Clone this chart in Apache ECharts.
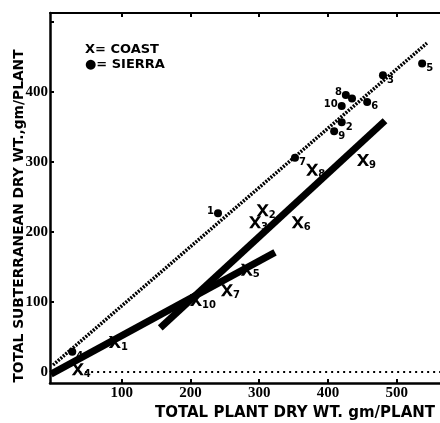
<!DOCTYPE html>
<html>
<head>
<meta charset="utf-8">
<script src="https://cdn.jsdelivr.net/npm/echarts@6/dist/echarts.min.js"></script>
<style>
html,body{margin:0;padding:0;background:#fff;}
#chart{width:440px;height:423px;}
</style>
</head>
<body>
<div id="chart"></div>
<script>
// ---- Data ----
const coastLabels = ['1','2','3','4','5','6','7','8','9','10'];
const coastX = [90, 305, 294, 36, 282, 356, 253, 377, 451, 208];
const coastY = [43, 231, 214, 4, 146, 214, 117, 289, 303, 103];

const sierraLabels = ['1','2','3','4','5','6','7','8','','9','10'];
const sierraX = [240, 420, 480, 28, 537, 457, 352, 426, 435, 409, 420];
const sierraY = [227, 357, 424, 29, 441, 386, 306, 396, 391, 344, 380];

// fitted lines (end points)
const sierraFitX = [0, 544];
const sierraFitY = [10, 470];
const coastFitAX = [156, 483];
const coastFitAY = [63, 359];
const coastFitBX = [-3, 323];
const coastFitBY = [-3, 171];
const zeroLineX = [38, 563];
const zeroLineY = [0, 0];

const xTicks = [100, 200, 300, 400, 500];
const yTicks = [0, 100, 200, 300, 400, 500];
const yTickLabels = [0, 100, 200, 300, 400];

// ---- label placement (style only) ----
const coastLabelPos = ['right','right','right','right','right','right','right','right','right','right'];
const sierraLabelPos = ['left','right','right','right','right','right','right','left','right','right','left'];

const FONT = 'DejaVu Sans';
const NUMFONT = 'Liberation Sans Narrow';

function pairs(xs, ys){ return xs.map((x,i)=>[x, ys[i]]); }

const xPath = 'path://M0,0 L3.2,0 L6,4 L8.8,0 L12,0 L7.6,6 L12,12 L8.8,12 L6,8 L3.2,12 L0,12 L4.4,6 Z';

function pointData(xs, ys, labels, pos){
  return xs.map((x,i)=>({
    value:[x, ys[i]],
    name: labels[i],
    label:{
      show: labels[i] !== '',
      position: pos[i],
      offset: pos[i]==='left' ? [1,-2] : [-1,5],
      formatter: labels[i]
    }
  }));
}

const chart = echarts.init(document.getElementById('chart'), null, {renderer:'canvas'});
const axisLineStyle = {color:'#000', width:2.5};
chart.setOption({
  animation:false,
  backgroundColor:'#fff',
  grid:{left:50, right:0, top:13, bottom:40, containLabel:false, outerBoundsMode:'none'},
  xAxis:[{
    type:'value', min:-4.4, max:563, position:'bottom',
    axisLine:{show:true, onZero:false, lineStyle:axisLineStyle},
    axisTick:{show:true, inside:true, length:4, customValues:xTicks, lineStyle:{color:'#000', width:2}},
    axisLabel:{show:true, customValues:xTicks, margin:3, color:'#000', fontFamily:NUMFONT, fontWeight:'bold', fontSize:15},
    splitLine:{show:false},
    name:'TOTAL PLANT DRY WT. gm/PLANT',
    nameLocation:'middle', nameGap:20,
    nameTextStyle:{color:'#000', fontFamily:FONT, fontWeight:'bold', fontSize:15, padding:[0,0,0,100]}
  },{
    type:'value', min:-4.4, max:563, position:'top',
    axisLine:{show:true, onZero:false, lineStyle:{color:'#000', width:2}},
    axisTick:{show:true, inside:true, length:4, customValues:xTicks, lineStyle:{color:'#000', width:2}},
    axisLabel:{show:false},
    splitLine:{show:false}
  }],
  yAxis:[{
    type:'value', min:-15.7, max:513,
    axisLine:{show:true, onZero:false, lineStyle:axisLineStyle},
    axisTick:{show:true, inside:true, length:4, customValues:yTicks, lineStyle:{color:'#000', width:2}},
    axisLabel:{show:true, customValues:yTickLabels, margin:2, color:'#000', fontFamily:NUMFONT, fontWeight:'bold', fontSize:15},
    splitLine:{show:false},
    name:'TOTAL SUBTERRANEAN DRY WT.,gm/PLANT',
    nameLocation:'middle', nameGap:24, nameRotate:90, nameMoveOverlap:false,
    nameTextStyle:{color:'#000', fontFamily:FONT, fontWeight:'bold', fontSize:13.8, padding:[0,36,0,0]}
  }],
  graphic:[
    {type:'text', left:85, top:43, style:{text:'X= COAST', fill:'#000', font:'bold 13px "DejaVu Sans"'}},
    {type:'text', left:85, top:58, style:{text:'\u25CF= SIERRA', fill:'#000', font:'bold 13px "DejaVu Sans"'}}
  ],
  series:[
    {type:'line', data:pairs(zeroLineX, zeroLineY), symbol:'none', silent:true,
      lineStyle:{color:'#000', width:2, type:[2,4]}},
    {type:'line', data:pairs(sierraFitX, sierraFitY), symbol:'none', silent:true,
      lineStyle:{color:'#000', width:3.5, type:[2,1.3]}},
    {type:'line', data:pairs(coastFitAX, coastFitAY), symbol:'none', silent:true,
      lineStyle:{color:'#000', width:7, cap:'butt'}},
    {type:'line', data:pairs(coastFitBX, coastFitBY), symbol:'none', silent:true,
      lineStyle:{color:'#000', width:7, cap:'butt'}},
    {name:'COAST', type:'scatter', symbol:xPath, symbolSize:[12,12],
      itemStyle:{color:'#000', opacity:1},
      label:{color:'#000', fontFamily:FONT, fontWeight:'bold', fontSize:10, distance:1},
      data:pointData(coastX, coastY, coastLabels, coastLabelPos)},
    {name:'SIERRA', type:'scatter', symbol:'circle', symbolSize:8,
      itemStyle:{color:'#000', opacity:1},
      label:{color:'#000', fontFamily:FONT, fontWeight:'bold', fontSize:10, distance:1},
      data:pointData(sierraX, sierraY, sierraLabels, sierraLabelPos)}
  ]
});
</script>
</body>
</html>
